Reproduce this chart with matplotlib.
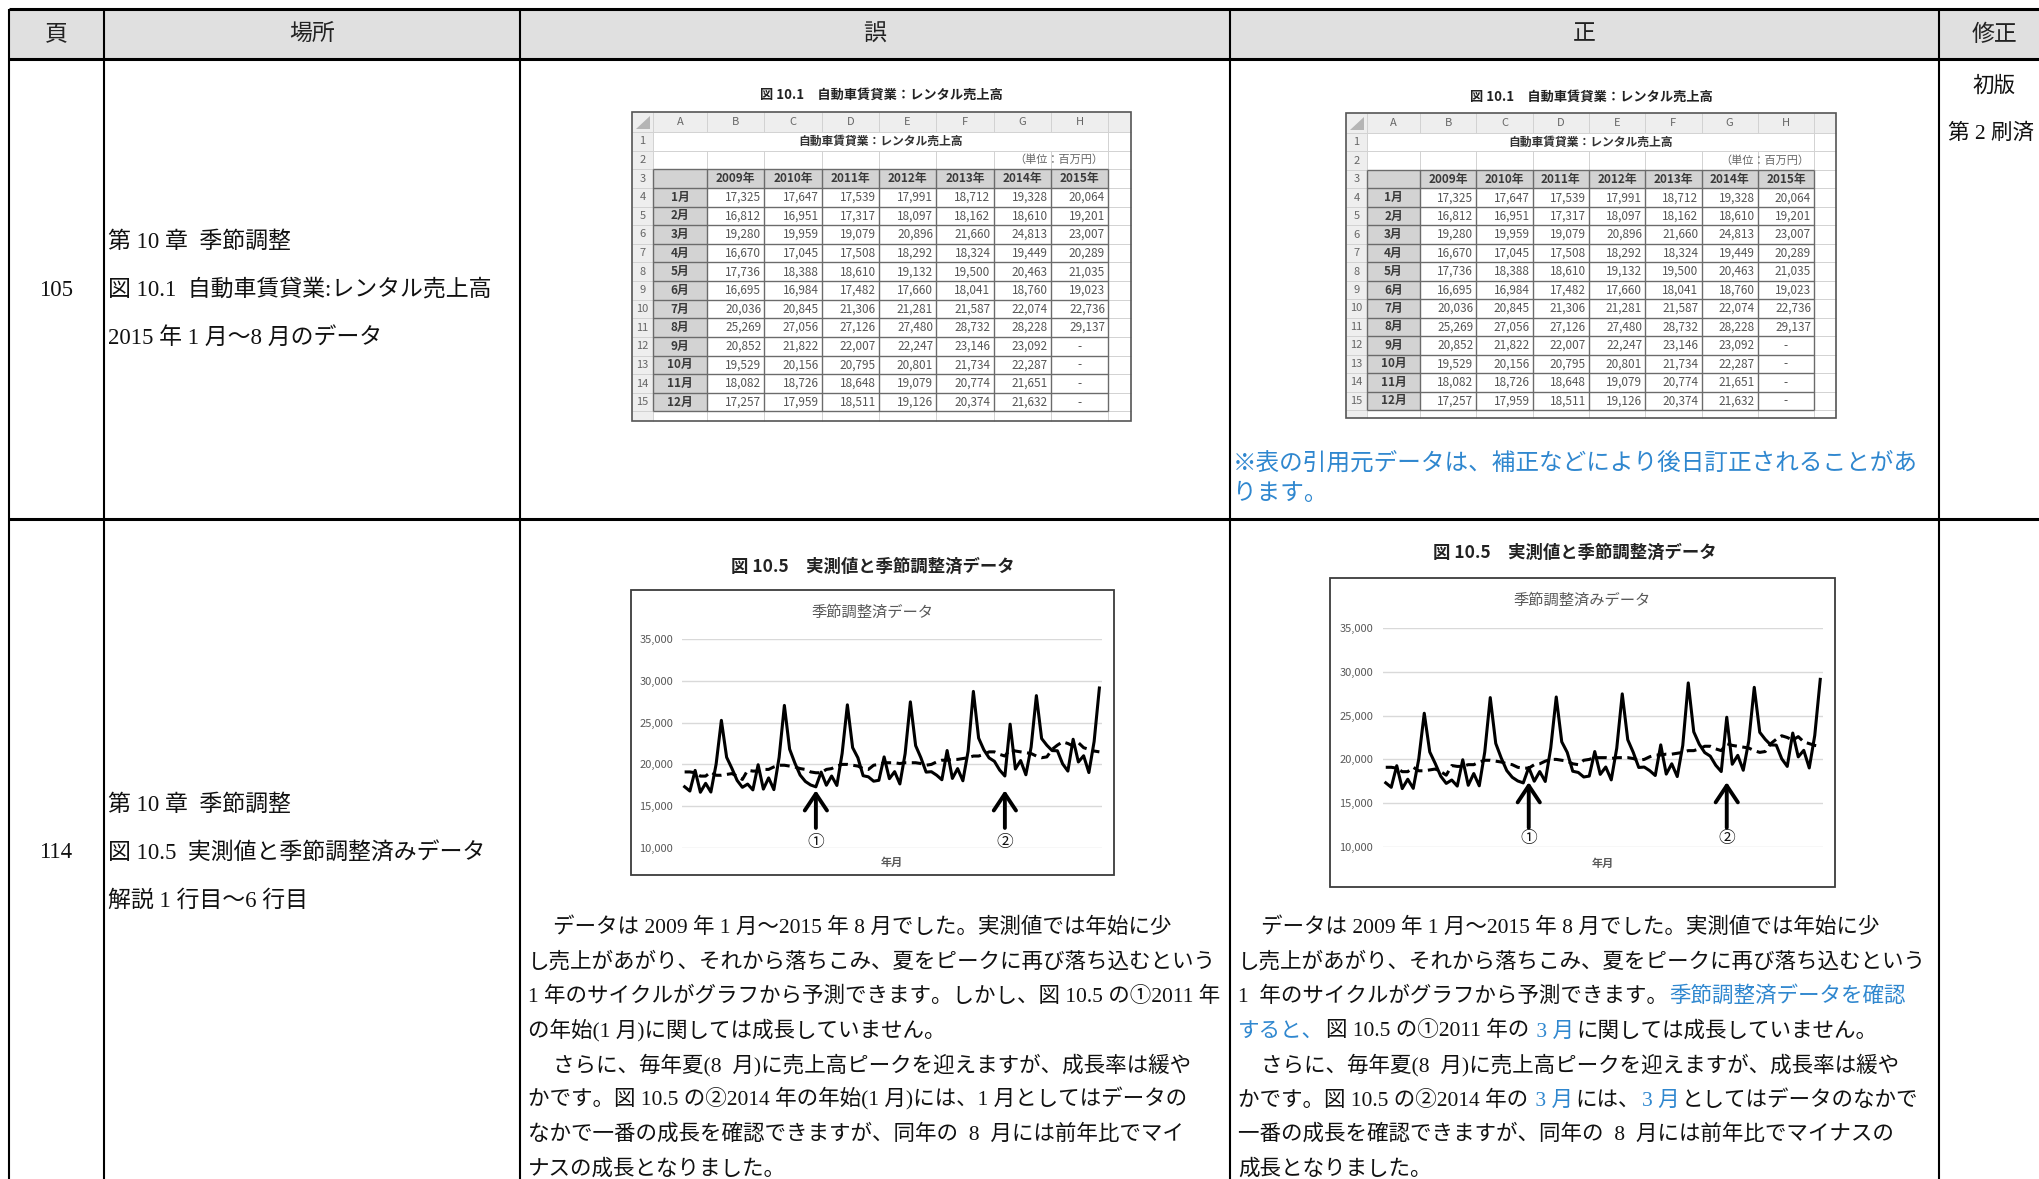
"""Errata table (誤 / 正) for chapter 10: spreadsheet figure 10.1 and chart 10.5."""

import matplotlib

matplotlib.use("Agg")
import matplotlib.pyplot as plt
from matplotlib.patches import Polygon, Rectangle

W, H = 2039, 1179
SERIF = ["Liberation Serif", "Noto Sans CJK JP"]
SANS = ["Noto Sans CJK JP", "DejaVu Sans"]
BLUE = "#2f87cf"
BLACK = "#111111"

plt.rcParams["font.family"] = SERIF

# ---------------------------------------------------------------- table text
HEADERS = ["頁", "場所", "誤", "正", "修正"]
PAGES = ["105", "114"]
PLACE_105 = ["第 10 章  季節調整", "図 10.1  自動車賃貸業:レンタル売上高", "2015 年 1 月～8 月のデータ"]
PLACE_114 = ["第 10 章  季節調整", "図 10.5  実測値と季節調整済みデータ", "解説 1 行目～6 行目"]
REVISION = ["初版", "第 2 刷済"]
NOTE_LINES = ["※表の引用元データは、補正などにより後日訂正されることがあ", "ります。"]

WRONG_TEXT = [
    "データは 2009 年 1 月～2015 年 8 月でした。実測値では年始に少",
    "し売上があがり、それから落ちこみ、夏をピークに再び落ち込むという",
    "1 年のサイクルがグラフから予測できます。しかし、図 10.5 の①2011 年",
    "の年始(1 月)に関しては成長していません。",
    "さらに、毎年夏(8  月)に売上高ピークを迎えますが、成長率は緩や",
    "かです。図 10.5 の②2014 年の年始(1 月)には、1 月としてはデータの",
    "なかで一番の成長を確認できますが、同年の  8  月には前年比でマイ",
    "ナスの成長となりました。",
]
# corrected paragraph: list of (text, is_changed) runs per line
RIGHT_TEXT = [
    [("データは 2009 年 1 月～2015 年 8 月でした。実測値では年始に少", False)],
    [("し売上があがり、それから落ちこみ、夏をピークに再び落ち込むという", False)],
    [("1  年のサイクルがグラフから予測できます。", False), ("季節調整済データを確認", True)],
    [("すると、", True), ("図 10.5 の①2011 年の", False), (" 3 月", True), ("に関しては成長していません。", False)],
    [("さらに、毎年夏(8  月)に売上高ピークを迎えますが、成長率は緩や", False)],
    [("かです。図 10.5 の②2014 年の", False), (" 3 月", True), ("には、", False), ("3 月", True),
     ("としてはデータのなかで", False)],
    [("一番の成長を確認できますが、同年の  8  月には前年比でマイナスの", False)],
    [("成長となりました。", False)],
]
INDENTED = [0, 4]

# ---------------------------------------------------------- figure 10.1 data
SHEET_COLS = ["A", "B", "C", "D", "E", "F", "G", "H"]
SHEET_TITLE = "自動車賃貸業：レンタル売上高"
SHEET_UNIT = "（単位：百万円）"
YEARS = ["2009年", "2010年", "2011年", "2012年", "2013年", "2014年", "2015年"]
MONTHS = ["1月", "2月", "3月", "4月", "5月", "6月", "7月", "8月", "9月", "10月", "11月", "12月"]
SALES_2009 = [17325, 16812, 19280, 16670, 17736, 16695, 20036, 25269, 20852, 19529, 18082, 17257]
SALES_2010 = [17647, 16951, 19959, 17045, 18388, 16984, 20845, 27056, 21822, 20156, 18726, 17959]
SALES_2011 = [17539, 17317, 19079, 17508, 18610, 17482, 21306, 27126, 22007, 20795, 18648, 18511]
SALES_2012 = [17991, 18097, 20896, 18292, 19132, 17660, 21281, 27480, 22247, 20801, 19079, 19126]
SALES_2013 = [18712, 18162, 21660, 18324, 19500, 18041, 21587, 28732, 23146, 21734, 20774, 20374]
SALES_2014 = [19328, 18610, 24813, 19449, 20463, 18760, 22074, 28228, 23092, 22287, 21651, 21632]
SALES_2015 = [20064, 19201, 23007, 20289, 21035, 19023, 22736, 29137]
SALES_BY_YEAR = [SALES_2009, SALES_2010, SALES_2011, SALES_2012, SALES_2013, SALES_2014, SALES_2015]

# ---------------------------------------------------------- figure 10.5 data
ACTUAL = [v for year in SALES_BY_YEAR for v in year]
SEASONAL_ADJ = [
    19100, 19100, 19000, 18600, 18600, 19100, 18700, 18700, 18800, 18900, 18600, 18200,
    19300, 19200, 19200, 19400, 19400, 19700, 19900, 19900, 19800, 19700, 19500, 19400,
    19100, 19000, 19000, 19400, 19500, 19800, 20000, 20000, 19900, 19800, 19500, 19400,
    19900, 20000, 20200, 20200, 20200, 20100, 20200, 20200, 20200, 20100, 19900, 20000,
    20300, 20500, 20500, 20600, 20600, 20700, 20800, 21000, 21000, 21200, 21500, 21500,
    21200, 21000, 21800, 21600, 21500, 21400, 21300, 21000, 20800, 20900, 21800, 22300,
    22700, 22500, 22200, 22600, 22000, 21800, 21600, 21500,
]
Y_TICKS = [10000, 15000, 20000, 25000, 30000, 35000]
CHART_TITLE = "図 10.5　実測値と季節調整済データ"
INNER_TITLE_WRONG = "季節調整済データ"
INNER_TITLE_RIGHT = "季節調整済みデータ"
ARROW_IDX_WRONG = [25, 61]
ARROW_IDX_RIGHT = [26, 62]


def hline(ax, y, x0, x1, **kw):
    ax.plot([x0, x1], [y, y], solid_capstyle="butt", **kw)


def vline(ax, x, y0, y1, **kw):
    ax.plot([x, x], [y0, y1], solid_capstyle="butt", **kw)


def draw_sheet(ax, x0, y0, x1, y1, rn_w, a_w, d_w, hdr_h, row_h, title_y):
    cols = [x0, x0 + rn_w] + [x0 + rn_w + a_w + d_w * k for k in range(8)] + [x1]
    rows = [y0] + [y0 + hdr_h + row_h * k for k in range(16)] + [y1]
    # cols: 1 = left of A ... 9 = right of H ; rows: 1 = top of row 1 ... 16 = bottom of row 15
    ax.add_patch(Rectangle((x0, y0), x1 - x0, y1 - y0, fc="white", ec="none", zorder=1))
    ax.add_patch(Rectangle((x0, y0), x1 - x0, hdr_h, fc="#eeeeee", ec="none", zorder=1))
    ax.add_patch(Rectangle((x0, rows[1]), rn_w, y1 - rows[1], fc="#eeeeee", ec="none", zorder=1))
    ax.add_patch(Rectangle((cols[1], rows[3]), cols[9] - cols[1], row_h, fc="#d3d3d3", ec="none", zorder=1))
    ax.add_patch(Rectangle((cols[1], rows[4]), cols[2] - cols[1], rows[16] - rows[4],
                           fc="#d3d3d3", ec="none", zorder=1))

    light = dict(color="#d2d2d2", lw=0.7, zorder=2)
    for r in rows[1:17]:
        hline(ax, r, x0, x1, **light)
    for c in cols[1:10]:
        vline(ax, c, y0, rows[1], **light)
        vline(ax, c, rows[2], y1, **light)
    for c in (cols[1], cols[9]):
        vline(ax, c, rows[1], rows[2], **light)
    dark = dict(color="#6b6b6b", lw=1.0, zorder=3)
    for r in rows[3:17]:
        hline(ax, r, cols[1], cols[9], **dark)
    for c in cols[1:10]:
        vline(ax, c, rows[3], rows[16], **dark)

    ax.add_patch(Polygon([(cols[1] - 3, rows[1] - 3), (cols[1] - 3, y0 + 4), (x0 + 4, rows[1] - 3)],
                         closed=True, fc="#b5b5b5", ec="none", zorder=3))
    txt = dict(family=SANS, zorder=4)
    for k, name in enumerate(SHEET_COLS):
        ax.text((cols[k + 1] + cols[k + 2]) / 2, (y0 + rows[1]) / 2, name, ha="center", va="center",
                fontsize=8, color="#666666", **txt)
    for k in range(15):
        ax.text((x0 + cols[1]) / 2, (rows[k + 1] + rows[k + 2]) / 2, str(k + 1), ha="center",
                va="center", fontsize=8, color="#666666", **txt)
    ax.text((cols[1] + cols[9]) / 2, (rows[1] + rows[2]) / 2, SHEET_TITLE, ha="center", va="center",
            fontsize=8.5, weight="bold", color="#333333", **txt)
    ax.text(cols[9] - 5, (rows[2] + rows[3]) / 2, SHEET_UNIT, ha="right", va="center",
            fontsize=8, color="#666666", **txt)
    for j, year in enumerate(YEARS):
        ax.text((cols[j + 2] + cols[j + 3]) / 2, (rows[3] + rows[4]) / 2, year, ha="center",
                va="center", fontsize=8.5, weight="bold", color="#3a3a3a", **txt)
    for i, month in enumerate(MONTHS):
        yc = (rows[i + 4] + rows[i + 5]) / 2
        ax.text((cols[1] + cols[2]) / 2, yc, month, ha="center", va="center", fontsize=8.5,
                weight="bold", color="#3a3a3a", **txt)
        for j, year_vals in enumerate(SALES_BY_YEAR):
            if i < len(year_vals):
                ax.text(cols[j + 3] - 3, yc, f"{year_vals[i]:,}", ha="right", va="center",
                        fontsize=8.5, color="#555555", **txt)
            else:
                ax.text((cols[j + 2] + cols[j + 3]) / 2, yc, "-", ha="center", va="center",
                        fontsize=8.5, color="#555555", **txt)
    ax.add_patch(Rectangle((x0, y0), x1 - x0, y1 - y0, fc="none", ec="#555555", lw=1.2, zorder=5))
    ax.text((x0 + x1) / 2, title_y, "図 10.1　" + SHEET_TITLE, ha="center", va="center",
            fontsize=9.5, weight="bold", color="#222222", **txt)


def draw_chart(fig, ax, box, plot, inner_title, arrow_idx, tip, tail, label_val, title_x, title_y,
               inner_y, xlabel_y, pad):
    x0, y0, x1, y1 = box
    ax.add_patch(Rectangle((x0, y0), x1 - x0, y1 - y0, fc="white", ec="#3c3c3c", lw=1.3, zorder=1))
    ax.text(title_x, title_y, CHART_TITLE, ha="center", va="center", fontsize=12.5, weight="bold",
            color="#222222", family=SANS)
    ax.text((x0 + x1) / 2, inner_y, inner_title, ha="center", va="center", fontsize=11,
            color="#595959", family=SANS)
    px0, py0, px1, py1 = plot
    ax.text((px0 + px1) / 2, xlabel_y, "年月", ha="center", va="center", fontsize=8, weight="bold",
            color="#595959", family=SANS)

    cax = fig.add_axes([px0 / W, 1 - py1 / H, (px1 - px0) / W, (py1 - py0) / H])
    cax.patch.set_alpha(0)
    months = range(len(ACTUAL))
    cax.plot(months, ACTUAL, color="black", lw=2.2, clip_on=False)
    cax.plot(months, SEASONAL_ADJ, color="black", lw=2.2, dashes=(3.2, 1.8), clip_on=False)
    cax.set_xlim(-0.5, len(ACTUAL) - 0.5)
    cax.set_ylim(Y_TICKS[0], Y_TICKS[-1])
    cax.set_yticks(Y_TICKS, [f"{v:,}" for v in Y_TICKS])
    cax.set_xticks([])
    cax.grid(axis="y", color="#d9d9d9", lw=1)
    cax.set_axisbelow(True)
    for spine in cax.spines.values():
        spine.set_visible(False)
    cax.tick_params(axis="y", length=0, pad=pad, labelsize=8, labelcolor="#595959")
    for lab in cax.get_yticklabels():
        lab.set_family(SANS)
    for idx, num in zip(arrow_idx, "①②"):
        cax.annotate("", xy=(idx, tip), xytext=(idx, tail), annotation_clip=False,
                     arrowprops=dict(arrowstyle="->,head_length=0.6,head_width=0.4", lw=2.8,
                                     color="black", shrinkA=0, shrinkB=0, mutation_scale=20))
        cax.text(idx, label_val, num, ha="center", va="center", fontsize=12, family=SANS,
                 color=BLACK, clip_on=False)


def draw_runs(ax, renderer, x, y, runs, size):
    for s, changed in runs:
        t = ax.text(x, y, s, ha="left", va="baseline", fontsize=size, color=BLUE if changed else BLACK)
        x += t.get_window_extent(renderer).width + 2


def main():
    fig = plt.figure(figsize=(W / 100, H / 100), dpi=100)
    ax = fig.add_axes([0, 0, 1, 1])
    ax.set_xlim(0, W)
    ax.set_ylim(H, 0)
    ax.axis("off")
    renderer = fig.canvas.get_renderer()

    col_x = [9, 104, 520, 1230, 1939]
    row_y = [9, 59, 519]
    header_cx = [56, 312, 875, 1584, 1994]

    # table frame
    ax.add_patch(Rectangle((col_x[0], row_y[0]), W - col_x[0] + 5, row_y[1] - row_y[0],
                           fc="#e0e0e0", ec="none", zorder=0))
    for y in row_y:
        hline(ax, y, col_x[0], W + 5, color="black", lw=2.2, zorder=6)
    for x in col_x:
        vline(ax, x, row_y[0], H + 5, color="black", lw=1.5, zorder=6)
    for cx, name in zip(header_cx, HEADERS):
        ax.text(cx, 35, name, ha="center", va="center", fontsize=16.5, color="#222222")

    # page / place columns
    for page, lines, ys in [(PAGES[0], PLACE_105, (242, 290, 338)), (PAGES[1], PLACE_114, (805, 853, 901))]:
        ax.text(56, ys[1], page, ha="center", va="center", fontsize=16.5, color=BLACK)
        for line, y in zip(lines, ys):
            ax.text(108, y, line, ha="left", va="center", fontsize=16.5, color=BLACK)

    # revision column
    ax.text(1994, 87, REVISION[0], ha="center", va="center", fontsize=15.5, color=BLACK)
    ax.text(1948, 134, REVISION[1], ha="left", va="center", fontsize=15.5, color=BLACK)

    # row 105: spreadsheets
    draw_sheet(ax, 632, 112, 1131, 421, 21, 54, 57.3, 20, 18.63, 95)
    draw_sheet(ax, 1346, 113, 1836, 418, 21, 53, 56.3, 20, 18.47, 97)
    for line, y in zip(NOTE_LINES, (463, 494)):
        ax.text(1233, y, line, ha="left", va="center", fontsize=17, color=BLUE)

    # row 114: charts
    draw_chart(fig, ax, (631, 590, 1114, 875), (682, 639, 1102, 848), INNER_TITLE_WRONG,
               ARROW_IDX_WRONG, 16900, 12400, 10700, 873, 567, 612, 862, 6.5)
    draw_chart(fig, ax, (1330, 578, 1835, 887), (1383, 628, 1823, 847), INNER_TITLE_RIGHT,
               ARROW_IDX_RIGHT, 17400, 12200, 11000, 1575, 553, 600, 863, 7.2)

    # explanation paragraphs
    for k, line in enumerate(WRONG_TEXT):
        x = 553 if k in INDENTED else 528
        ax.text(x, 933 + 34.5 * k, line, ha="left", va="baseline", fontsize=15.5, color=BLACK)
    for k, runs in enumerate(RIGHT_TEXT):
        x = 1261 if k in INDENTED else 1238
        draw_runs(ax, renderer, x, 933 + 34.5 * k, runs, 15.5)

    fig.savefig("out.png", dpi=100, facecolor="white")


if __name__ == "__main__":
    main()
